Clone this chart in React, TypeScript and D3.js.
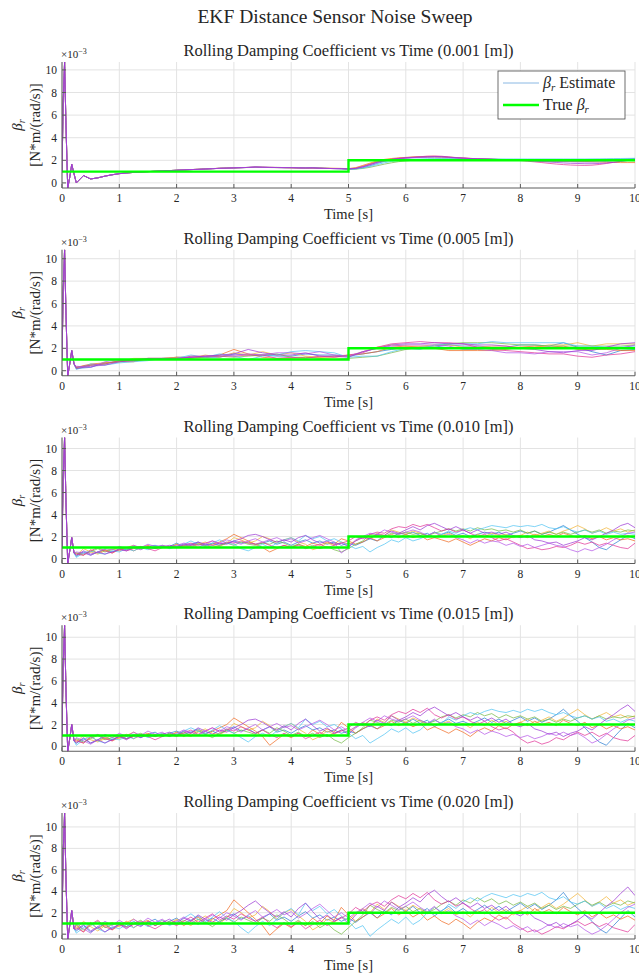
import React from 'react';
import * as d3 from 'd3';

// noise levels of the sweep, one subplot each
const noiseLevels = ['0.001', '0.005', '0.010', '0.015', '0.020'];

// estimate colours, in drawing order (last one sits on top of the start spike)
const traceColors = ['#2a7dd1', '#f06a22', '#f2b233', '#74b846', '#4fc3f2', '#e03296', '#b455e8', '#9b36d4'];

// shared start-up transient (x1e-3), same for every run of a subplot
const transientTimes = [0, 0.02, 0.045, 0.07, 0.1, 0.135, 0.17, 0.21];
const transient001 = [1.0, 7.0, 10.7, 5.0, -0.45, 0.5, 1.65, 0.8];
const transient005 = [1.0, 7.0, 10.8, 5.0, -0.45, 0.6, 1.8, 0.6];
const transient010 = [1.0, 7.2, 11.0, 5.0, -0.45, 0.7, 1.9, 0.5];
const transient015 = [1.0, 7.3, 11.1, 5.0, -0.45, 0.7, 2.0, 0.5];
const transient020 = [1.0, 7.5, 11.3, 5.0, -0.45, 0.8, 2.2, 0.5];

// estimates are sampled from t = 0.25 s on, with this step per subplot
const gridStart = 0.25;
const gridSteps = [0.125, 0.25, 0.125, 0.125, 0.125];

// beta_r estimates (x1e-3), 0.001 m noise
const est001 = [
  [0.0,0.65,0.35,0.45,0.6,0.72, 0.82,0.88,0.93,0.97,1.0,1.03,1.06,1.09, 1.12,1.15,1.18,1.2,1.23,1.26,1.29,1.31,
   1.33,1.35,1.37,1.4,1.38,1.37,1.36,1.35, 1.35,1.33,1.32,1.34,1.3,1.28,1.27,1.26, 1.22,1.25,1.35,1.52,1.72,1.9,2.03,2.12,
   2.18,2.22,2.25,2.27,2.28,2.27,2.24,2.2, 2.18,2.15,2.13,2.11,2.09,2.07,2.05,2.03, 2.01,1.99,1.97,1.95,1.93,1.91,1.9,1.9,
   1.9,1.92,1.95,1.98,2.0,2.03,2.06,2.1, 2.15],
  [0.0,0.65,0.35,0.45,0.6,0.72, 0.82,0.88,0.93,0.97,1.0,1.03,1.06,1.09, 1.12,1.15,1.18,1.21,1.24,1.27,1.3,1.32,
   1.34,1.36,1.37,1.38,1.38,1.37,1.36,1.35, 1.34,1.33,1.33,1.33,1.32,1.3,1.29,1.28, 1.26,1.35,1.55,1.75,1.95,2.08,2.16,2.22,
   2.26,2.3,2.33,2.35,2.35,2.33,2.28,2.24, 2.2,2.17,2.14,2.12,2.1,2.08,2.06,2.04, 2.02,2.0,1.98,1.96,1.95,1.94,1.93,1.92,
   1.92,1.9,1.88,1.85,1.83,1.82,1.8,1.8, 1.8],
  [0.0,0.65,0.35,0.45,0.6,0.72, 0.82,0.88,0.93,0.97,1.0,1.03,1.06,1.09, 1.12,1.15,1.18,1.2,1.23,1.26,1.29,1.31,
   1.33,1.35,1.37,1.39,1.38,1.37,1.37,1.36, 1.35,1.34,1.33,1.32,1.31,1.3,1.29,1.28, 1.27,1.32,1.5,1.7,1.9,2.03,2.12,2.18,
   2.22,2.26,2.28,2.3,2.3,2.28,2.25,2.21, 2.18,2.15,2.13,2.11,2.09,2.07,2.05,2.04, 2.02,2.0,1.99,1.97,1.96,1.95,1.94,1.94,
   1.95,1.98,2.0,2.02,2.03,2.02,2.0,1.98, 1.95],
  [0.0,0.65,0.35,0.45,0.6,0.72, 0.82,0.88,0.93,0.97,1.0,1.03,1.06,1.09, 1.12,1.15,1.18,1.2,1.23,1.26,1.29,1.31,
   1.33,1.35,1.36,1.37,1.37,1.36,1.35,1.35, 1.34,1.33,1.32,1.31,1.3,1.28,1.27,1.26, 1.2,1.22,1.28,1.38,1.52,1.66,1.78,1.88,
   1.95,2.0,2.05,2.08,2.1,2.12,2.12,2.12, 2.12,2.11,2.1,2.1,2.09,2.08,2.07,2.06, 2.05,2.04,2.03,2.03,2.02,2.02,2.03,2.04,
   2.05,2.06,2.07,2.08,2.09,2.1,2.1,2.11, 2.12],
  [0.0,0.65,0.35,0.45,0.6,0.72, 0.82,0.88,0.93,0.97,1.0,1.03,1.06,1.09, 1.12,1.15,1.18,1.2,1.23,1.26,1.29,1.31,
   1.33,1.35,1.37,1.38,1.38,1.37,1.37,1.36, 1.36,1.35,1.34,1.33,1.31,1.29,1.27,1.25, 1.2,1.23,1.32,1.45,1.62,1.78,1.9,1.98,
   2.04,2.08,2.12,2.14,2.15,2.15,2.15,2.14, 2.14,2.13,2.13,2.12,2.12,2.12,2.12,2.12, 2.12,2.12,2.12,2.12,2.12,2.12,2.12,2.12,
   2.12,2.12,2.13,2.13,2.14,2.15,2.16,2.17, 2.18],
  [0.0,0.65,0.35,0.45,0.6,0.72, 0.82,0.88,0.93,0.97,1.0,1.03,1.06,1.09, 1.12,1.15,1.18,1.2,1.23,1.26,1.29,1.31,
   1.33,1.35,1.37,1.4,1.39,1.38,1.37,1.36, 1.35,1.33,1.32,1.31,1.3,1.28,1.27,1.26, 1.24,1.3,1.46,1.66,1.86,2.0,2.1,2.18,
   2.24,2.28,2.32,2.36,2.38,2.36,2.3,2.25, 2.2,2.17,2.14,2.11,2.08,2.05,2.02,2.0, 1.98,1.92,1.86,1.8,1.73,1.67,1.62,1.58,
   1.56,1.55,1.57,1.63,1.72,1.82,1.92,2.0, 2.05],
  [0.0,0.65,0.35,0.45,0.6,0.72, 0.82,0.88,0.93,0.97,1.0,1.03,1.06,1.09, 1.12,1.15,1.18,1.2,1.23,1.26,1.29,1.31,
   1.33,1.35,1.37,1.4,1.38,1.37,1.36,1.35, 1.35,1.33,1.32,1.34,1.3,1.28,1.27,1.26, 1.24,1.28,1.42,1.6,1.8,1.95,2.07,2.15,
   2.2,2.24,2.27,2.29,2.31,2.3,2.26,2.22, 2.19,2.16,2.13,2.11,2.09,2.07,2.05,2.03, 2.01,1.99,1.97,1.95,1.93,1.91,1.89,1.88,
   1.85,1.84,1.84,1.86,1.9,1.95,2.0,2.05, 2.08],
  [0.0,0.65,0.35,0.45,0.6,0.72, 0.82,0.88,0.93,0.97,1.0,1.03,1.06,1.09, 1.12,1.15,1.18,1.2,1.23,1.26,1.29,1.31,
   1.33,1.35,1.37,1.42,1.39,1.37,1.36,1.35, 1.35,1.33,1.32,1.34,1.3,1.28,1.27,1.26, 1.24,1.28,1.42,1.62,1.82,1.97,2.08,2.16,
   2.22,2.26,2.29,2.31,2.33,2.32,2.28,2.23, 2.19,2.16,2.13,2.11,2.09,2.07,2.05,2.03, 2.0,1.97,1.93,1.89,1.85,1.81,1.77,1.74,
   1.72,1.7,1.7,1.72,1.76,1.82,1.9,1.98, 2.05],
];

// 0.005 m noise (0.25 s samples)
const est005 = [
  [0.2,0.3,0.7, 0.8,1.0,1.0,1.0, 1.2,1.2,1.2,1.2, 1.5,1.4,1.4,1.3, 1.3,1.5,1.4,1.4, 1.3,1.5,1.7,1.9, 2.1,2.1,2.1,2.3, 2.2,2.2,2.1,2.1, 2.3,2.3,2.2,2.5, 2.1,1.7,1.4,1.8, 1.9],
  [0.3,0.6,0.7, 0.8,0.8,1.1,1.1, 1.2,1.2,1.2,1.4, 1.9,1.5,1.2,1.1, 1.1,1.2,1.2,1.3, 1.4,1.5,1.7,2.1, 2.2,2.1,2.0,1.8, 1.8,1.8,1.8,1.9, 2.1,2.2,2.1,2.2, 1.9,1.9,1.9,1.8, 1.8],
  [0.2,0.5,0.7, 0.8,1.1,1.1,1.1, 1.2,1.1,1.4,1.2, 1.6,1.4,1.7,1.4, 1.6,1.3,1.2,1.2, 1.3,1.7,2.1,2.3, 2.2,2.2,2.3,2.3, 2.1,2.1,2.2,2.2, 2.1,2.1,2.3,2.3, 2.5,2.2,2.4,2.4, 2.4],
  [0.3,0.5,0.6, 0.9,0.9,1.0,1.0, 1.0,1.1,1.2,1.3, 1.2,1.3,1.4,1.5, 1.2,1.2,1.1,1.0, 1.1,1.2,1.3,1.6, 1.9,2.1,2.2,2.4, 2.5,2.5,2.5,2.4, 2.3,2.3,2.2,2.2, 2.2,2.2,2.2,2.2, 2.3],
  [0.1,0.6,0.5, 0.7,0.8,0.9,1.1, 1.1,1.4,1.2,1.5, 1.3,1.0,1.3,1.4, 1.7,1.8,1.7,1.6, 1.2,1.3,1.3,1.7, 2.0,1.9,2.3,2.4, 2.4,2.4,2.6,2.5, 2.5,2.5,2.5,2.5, 2.2,2.2,2.1,2.1, 2.2],
  [0.3,0.5,0.6, 0.9,0.9,1.0,1.0, 1.0,1.3,1.3,1.3, 1.3,1.4,1.4,1.1, 1.2,1.1,1.3,1.2, 1.4,1.6,2.1,2.4, 2.5,2.6,2.5,2.5, 2.4,2.1,1.9,1.8, 1.7,1.6,1.5,1.5, 1.3,1.2,1.4,1.5, 1.7],
  [0.4,0.3,0.8, 1.0,1.0,1.1,1.1, 1.1,1.2,1.3,1.3, 1.4,1.5,1.4,1.6, 1.6,1.5,1.7,1.4, 1.3,1.7,2.0,2.2, 2.3,2.3,2.3,2.2, 1.9,1.9,1.8,1.6, 1.6,1.5,1.7,1.7, 1.7,1.4,1.6,2.0, 2.3],
  [0.2,0.4,0.5, 0.8,0.9,1.1,1.1, 1.1,1.2,1.3,1.4, 1.5,1.9,1.6,1.4, 1.4,1.6,1.3,1.3, 1.2,1.7,2.0,2.3, 2.4,2.4,2.5,2.4, 2.4,2.3,2.3,2.2, 2.0,1.9,1.7,1.6, 1.8,1.8,2.1,2.4, 2.5],
];

// 0.010 m noise
const est010 = [
  [0.2,0.6,0.3,0.6,0.8,0.6, 0.9,0.8,1.1,0.9,1.1,1.2,1.0,1.1, 1.4,1.1,1.3,1.5,1.2,1.4,1.2,1.4, 1.6,1.4,1.5,1.3,1.4,1.6,1.3,1.5,
   1.2,1.5,1.7,1.4,1.6,1.3,1.5,1.2, 1.4,1.2,1.5,1.8,1.6,2.1,1.9,2.3, 2.2,2.4,2.1,2.3,1.9,2.2,2.4,2.1, 2.3,2.0,2.2,2.4,2.2,2.4,2.1,2.3,
   2.5,2.3,2.5,2.2,2.4,2.7,3.0,2.6, 2.2,1.9,1.5,1.0,0.8,1.3,1.7,2.1, 1.8],
  [0.5,0.3,0.8,0.5,0.8,0.5, 0.8,1.0,0.7,1.0,1.2,0.9,1.1,1.0, 1.3,1.0,1.2,1.4,1.1,1.3,1.5,1.8, 2.2,1.9,1.6,1.3,1.0,0.6,0.9,1.2,
   1.0,1.3,1.1,1.4,1.2,1.5,1.3,1.8, 1.6,1.3,1.5,1.9,1.6,1.9,2.2,1.9, 2.2,1.9,2.1,1.7,1.9,1.7,1.5,1.8, 1.5,1.2,1.5,1.8,1.6,1.9,1.7,2.0,
   2.1,1.9,2.2,2.0,2.2,2.0,2.3,2.1, 1.9,2.1,1.8,2.0,1.7,1.9,1.7,1.8, 1.6],
  [0.3,0.9,0.6,0.4,0.7,0.9, 0.7,1.0,1.2,0.9,1.1,0.9,1.2,1.0, 1.3,1.1,1.0,1.3,1.5,1.2,1.1,1.4, 1.9,1.7,1.4,1.6,2.0,1.8,1.4,1.7,
   1.9,1.5,1.3,0.8,1.0,1.4,1.2,1.5, 1.3,1.6,2.0,1.8,2.3,2.1,2.6,2.4, 2.2,2.5,2.3,2.0,2.4,2.1,2.3,2.0, 2.1,1.8,2.2,2.0,2.3,2.1,2.2,1.9,
   2.1,2.4,2.1,2.3,2.5,2.2,2.5,2.7, 3.0,2.7,2.3,2.5,2.8,2.5,2.7,2.4, 2.6],
  [0.5,0.4,0.6,0.9,0.6,0.8, 1.0,0.8,1.0,1.1,0.9,1.1,1.0,1.1, 1.0,1.2,1.1,1.3,1.2,1.0,1.2,1.4, 1.2,1.5,1.3,1.2,1.4,1.3,1.6,1.4,
   1.1,1.3,1.0,1.2,0.9,1.1,0.8,0.6, 0.9,1.3,1.6,2.2,2.1,2.0,2.3,2.2, 2.4,2.2,2.3,2.1,2.3,2.5,2.7,2.5, 2.7,2.5,2.8,2.6,2.7,2.5,2.6,2.4,
   2.6,2.3,2.5,2.2,2.4,2.2,2.4,2.2, 2.4,2.6,2.4,2.6,2.3,2.5,2.4,2.6, 2.5],
  [0.1,0.5,0.7,0.5,0.4,0.7, 0.6,0.9,0.7,1.0,0.8,1.0,1.2,0.9, 1.1,1.3,1.6,1.3,1.1,1.4,1.7,1.4, 1.3,0.9,0.7,1.0,1.3,1.0,1.4,1.7,
   1.9,1.6,2.1,1.8,2.0,1.6,1.8,1.5, 1.2,0.9,1.1,0.6,1.0,1.3,1.7,1.5, 1.9,1.6,1.8,2.1,2.4,2.2,2.5,2.3, 2.6,2.8,2.6,2.8,3.0,2.9,2.8,3.0,
   2.9,3.0,2.9,3.1,2.8,2.7,2.9,2.6, 2.4,2.6,2.3,2.5,2.2,2.4,2.2,2.3, 2.2],
  [0.4,0.3,0.7,1.0,0.7,0.5, 0.9,0.7,0.9,1.1,0.9,0.7,1.0,1.1, 1.0,1.2,1.4,1.2,1.4,1.6,1.3,1.5, 1.4,1.6,1.4,1.3,1.5,1.2,1.0,1.2,
   1.0,1.2,0.9,1.1,1.3,1.0,1.2,1.4, 1.6,2.0,1.8,2.2,2.4,2.3,2.7,2.9, 2.8,3.1,2.9,3.1,2.8,2.5,2.7,2.4, 2.6,2.3,2.0,2.2,1.9,1.6,1.8,1.5,
   1.2,0.9,1.0,0.8,0.9,1.1,1.0,1.2, 1.5,1.3,1.5,1.2,1.4,1.2,1.0,0.9, 1.4],
  [0.6,0.5,0.3,0.6,0.9,0.8, 1.1,0.9,1.2,1.0,1.3,1.1,1.2,1.0, 1.2,1.4,1.3,1.0,1.3,1.6,1.4,1.7, 1.5,1.3,1.6,1.8,1.5,1.7,1.9,1.6,
   1.8,1.4,1.6,1.9,2.1,1.8,1.5,0.5, 1.0,1.7,2.0,2.3,2.2,2.6,2.4,2.2, 2.4,2.6,2.4,2.1,2.4,2.0,2.2,1.9, 1.7,1.4,1.7,1.4,1.6,1.5,1.2,1.4,
   1.1,1.3,1.0,1.2,1.4,1.2,1.1,0.8, 0.6,0.9,0.7,1.0,1.3,1.7,2.0,2.3, 2.4],
  [0.3,0.7,0.4,0.6,0.4,0.6, 0.8,0.7,1.0,0.8,1.1,0.9,1.1,1.2, 1.1,1.3,1.2,1.5,1.3,1.2,1.4,1.3, 1.6,1.8,2.1,2.2,2.0,1.7,1.5,1.7,
   1.5,1.9,2.1,1.7,1.4,1.6,1.3,1.4, 1.1,1.6,1.9,1.8,2.2,2.1,2.5,2.3, 2.6,2.9,2.6,3.0,3.2,2.9,2.6,2.9, 2.6,2.3,2.6,2.3,2.4,2.2,2.4,2.1,
   1.9,2.1,1.7,1.6,1.4,1.5,1.2,1.4, 1.6,1.9,1.7,2.0,2.3,2.6,3.0,3.2, 2.8],
];

// 0.015 m noise
const est015 = [
  [0.3,0.7,0.3,0.6,0.9,0.6, 0.9,0.7,1.1,0.8,1.1,1.3,0.9,1.2, 1.4,1.1,1.3,1.6,1.2,1.4,1.1,1.5, 1.8,1.4,1.6,1.2,1.5,1.8,1.3,1.5,
   1.2,1.6,1.9,1.5,1.7,1.3,1.5,1.2, 1.4,1.2,1.6,1.9,1.6,2.1,1.9,2.4, 2.1,2.5,2.1,2.4,1.8,2.2,2.5,2.1, 2.3,2.0,2.3,2.6,2.2,2.5,2.1,2.4,
   2.7,2.3,2.6,2.2,2.5,2.9,3.4,2.8, 2.3,1.7,1.0,0.4,0.1,0.8,1.5,2.1, 1.7],
  [0.6,0.3,0.9,0.5,0.8,0.5, 0.8,1.1,0.7,1.0,1.2,0.9,1.1,0.9, 1.3,0.9,1.2,1.5,1.1,1.4,1.7,2.0, 2.6,2.2,1.8,1.4,0.9,0.1,0.6,1.1,
   0.8,1.2,0.9,1.5,1.1,1.6,1.3,2.2, 1.7,1.2,1.6,2.0,1.6,1.9,2.3,1.9, 2.2,1.8,2.1,1.5,1.8,1.5,1.2,1.6, 1.3,0.9,1.4,1.7,1.4,1.9,1.6,2.0,
   2.2,1.9,2.3,2.0,2.2,1.9,2.4,2.1, 1.9,2.2,1.7,2.0,1.6,1.9,1.6,1.8, 1.5],
  [0.4,1.0,0.6,0.4,0.7,1.0, 0.7,1.0,1.3,0.9,1.1,0.9,1.2,1.0, 1.3,1.1,0.9,1.3,1.6,1.2,1.1,1.4, 2.1,1.8,1.5,1.7,2.3,1.9,1.4,1.8,
   2.1,1.6,1.2,0.6,0.9,1.4,1.1,1.5, 1.3,1.8,2.2,1.9,2.5,2.2,2.8,2.5, 2.2,2.6,2.3,2.0,2.4,2.1,2.3,1.9, 2.1,1.7,2.2,1.9,2.4,2.0,2.3,1.9,
   2.2,2.5,2.1,2.4,2.7,2.3,2.6,3.0, 3.4,2.9,2.5,2.8,3.1,2.7,2.9,2.6, 2.8],
  [0.7,0.4,0.7,1.0,0.6,0.8, 1.0,0.7,1.0,1.2,0.9,1.1,0.9,1.2, 1.0,1.3,1.0,1.4,1.1,0.8,1.2,1.5, 1.2,1.5,1.3,1.1,1.5,1.2,1.7,1.4,
   1.0,1.3,0.9,1.2,0.8,1.1,0.6,0.3, 0.8,1.2,1.7,2.4,2.2,2.0,2.4,2.2, 2.5,2.1,2.4,2.1,2.3,2.7,2.9,2.6, 2.9,2.7,3.1,2.8,3.0,2.6,2.9,2.6,
   2.8,2.5,2.7,2.3,2.5,2.2,2.5,2.3, 2.6,2.8,2.5,2.8,2.5,2.7,2.6,2.8, 2.7],
  [0.1,0.6,0.9,0.5,0.3,0.7, 0.6,0.9,0.7,1.1,0.8,1.0,1.2,0.9, 1.1,1.4,1.7,1.4,1.1,1.5,1.9,1.5, 1.2,0.8,0.4,0.9,1.2,0.9,1.4,1.8,
   2.1,1.7,2.5,2.0,2.3,1.8,2.0,1.6, 1.2,0.7,1.0,0.3,0.7,1.1,1.6,1.3, 1.7,1.2,1.5,2.1,2.4,2.1,2.7,2.4, 2.8,3.1,2.9,3.2,3.4,3.2,3.1,3.3,
   3.1,3.4,3.2,3.4,3.1,2.9,3.1,2.8, 2.6,2.8,2.5,2.7,2.3,2.5,2.2,2.5, 2.3],
  [0.5,0.3,0.8,1.1,0.7,0.5, 1.0,0.7,0.9,1.1,0.9,0.6,0.9,1.1, 0.9,1.2,1.5,1.1,1.4,1.7,1.3,1.6, 1.4,1.8,1.5,1.2,1.5,1.1,0.8,1.2,
   0.9,1.2,0.7,1.0,1.3,0.9,1.2,1.4, 1.7,2.2,1.9,2.4,2.7,2.4,2.9,3.2, 3.0,3.4,3.1,3.5,2.9,2.6,2.9,2.5, 2.7,2.3,2.0,2.3,1.8,1.5,1.7,1.3,
   0.7,0.3,0.5,0.2,0.4,0.8,0.6,1.0, 1.3,1.0,1.3,0.9,1.2,0.8,0.6,0.5, 1.0],
  [0.8,0.5,0.2,0.6,1.1,0.8, 1.2,0.9,1.3,1.0,1.4,1.1,1.3,0.9, 1.2,1.5,1.3,1.0,1.4,1.7,1.4,1.8, 1.6,1.3,1.7,2.0,1.5,1.8,2.1,1.7,
   1.9,1.5,1.8,2.1,2.4,2.0,1.5,1.8, 1.4,1.8,2.2,2.6,2.3,2.8,2.5,2.3, 2.5,2.8,2.4,2.1,2.5,2.0,2.2,1.8, 1.6,1.2,1.5,1.1,1.4,1.2,0.9,1.1,
   0.8,1.0,0.7,0.9,1.2,1.0,1.3,1.0, 1.2,0.8,0.3,0.6,1.1,1.6,2.0,2.4, 2.6],
  [0.3,0.8,0.3,0.6,0.3,0.6, 0.9,0.6,1.0,0.8,1.1,0.9,1.1,1.3, 1.0,1.4,1.2,1.7,1.4,1.1,1.5,1.3, 1.7,2.0,2.4,2.5,2.2,1.8,1.5,1.9,
   1.5,2.1,2.5,1.9,1.4,1.7,1.2,1.5, 1.1,1.7,2.1,1.8,2.4,2.1,2.8,2.4, 2.7,3.1,2.8,3.3,3.6,3.2,2.8,3.1, 2.7,2.4,2.7,2.3,2.6,2.2,2.5,2.0,
   1.8,2.1,1.6,1.4,1.1,1.3,0.9,1.2, 1.4,1.8,1.5,2.0,2.5,2.9,3.4,3.8, 3.2],
];

// 0.020 m noise
const est020 = [
  [0.3,0.8,0.2,0.6,1.0,0.5, 0.9,0.7,1.2,0.8,1.1,1.4,0.9,1.2, 1.5,1.0,1.3,1.7,1.2,1.5,1.1,1.6, 1.9,1.4,1.7,1.2,1.5,1.9,1.3,1.6,
   1.2,1.7,2.1,1.5,1.8,1.3,1.6,1.2, 1.5,1.1,1.6,2.0,1.5,2.2,1.8,2.5, 2.1,2.6,2.0,2.4,1.7,2.2,2.6,2.0, 2.4,1.9,2.3,2.7,2.2,2.6,2.1,2.5,
   2.9,2.4,2.8,2.3,2.7,3.2,3.9,3.0, 2.4,1.8,1.2,0.5,0.1,0.8,1.5,2.2, 1.6],
  [0.8,0.2,1.1,0.5,0.9,0.4, 0.8,1.2,0.6,1.0,1.3,0.8,1.1,0.9, 1.3,0.8,1.2,1.6,1.0,1.4,1.8,2.2, 3.2,2.6,2.0,1.4,0.8,-0.1,0.5,1.0,
   0.6,1.2,0.8,1.5,1.0,1.7,1.3,2.5, 1.8,1.2,1.6,2.1,1.5,1.9,2.4,1.8, 2.2,1.6,2.0,1.3,1.7,1.2,0.9,1.4, 1.0,0.5,1.1,1.5,1.2,1.8,1.4,2.0,
   2.2,1.8,2.4,2.0,2.3,1.9,2.5,2.1, 1.8,2.2,1.6,2.0,1.5,1.8,1.4,1.7, 1.3],
  [0.5,1.2,0.7,0.3,0.8,1.1, 0.7,1.1,1.4,0.9,1.2,0.8,1.3,1.0, 1.4,1.1,0.8,1.3,1.7,1.2,1.0,1.5, 2.4,2.0,1.5,1.8,2.6,2.1,1.4,2.0,
   2.3,1.7,1.2,0.4,0.8,1.4,1.1,1.6, 1.3,1.9,2.4,2.0,2.8,2.3,3.0,2.6, 2.2,2.7,2.3,1.9,2.5,2.0,2.4,1.8, 2.1,1.6,2.2,1.9,2.5,2.0,2.3,1.8,
   2.2,2.6,2.1,2.5,2.9,2.4,2.8,3.3, 3.8,3.2,2.6,3.0,3.5,2.9,3.2,2.7, 3.0],
  [0.9,0.4,0.8,1.2,0.6,0.9, 1.1,0.7,1.0,1.3,0.8,1.1,0.9,1.2, 0.9,1.3,1.0,1.4,1.1,0.7,1.2,1.5, 1.1,1.6,1.3,1.0,1.5,1.2,1.8,1.4,
   0.9,1.3,0.8,1.2,0.6,1.0,0.4,0.0, 0.6,1.2,1.8,2.7,2.3,2.0,2.5,2.2, 2.6,2.1,2.4,2.0,2.3,2.8,3.1,2.7, 3.2,2.9,3.4,3.0,3.3,2.8,3.1,2.7,
   3.0,2.6,2.9,2.4,2.7,2.3,2.6,2.4, 2.8,3.1,2.7,3.0,2.6,2.9,2.7,3.1, 2.9],
  [0.1,0.6,1.0,0.5,0.2,0.7, 0.5,0.9,0.6,1.1,0.7,1.0,1.3,0.8, 1.1,1.5,1.9,1.4,1.0,1.6,2.1,1.5, 1.2,0.6,0.1,0.7,1.2,0.8,1.4,2.0,
   2.4,1.8,2.9,2.2,2.6,1.9,2.3,1.7, 1.2,0.5,0.8,-0.2,0.4,0.9,1.4,1.0, 1.6,0.9,1.3,2.0,2.5,2.1,2.8,2.4, 3.0,3.4,3.1,3.5,3.8,3.6,3.4,3.7,
   3.5,3.8,3.6,3.9,3.4,3.2,3.5,3.0, 2.8,3.1,2.6,2.9,2.4,2.7,2.3,2.6, 2.4],
  [0.6,0.2,0.9,1.3,0.7,0.4, 1.0,0.6,0.9,1.2,0.8,0.5,0.9,1.1, 0.8,1.2,1.6,1.1,1.5,1.9,1.3,1.7, 1.4,1.9,1.5,1.2,1.6,1.0,0.6,1.1,
   0.7,1.1,0.5,0.9,1.3,0.8,1.2,1.5, 1.9,2.5,2.1,2.7,3.0,2.6,3.2,3.6, 3.3,3.8,3.4,3.9,3.2,2.8,3.1,2.6, 2.9,2.4,2.0,2.3,1.7,1.3,1.6,1.0,
   0.6,0.2,0.4,0.0,0.3,0.7,0.5,0.9, 1.2,0.8,1.1,0.7,1.0,0.6,0.4,0.2, 0.9],
  [1.0,0.5,0.1,0.7,1.2,0.8, 1.3,0.9,1.4,1.0,1.5,1.1,1.4,0.9, 1.2,1.6,1.3,0.9,1.4,1.8,1.5,2.0, 1.7,1.3,1.8,2.2,1.6,1.9,2.3,1.8,
   2.1,1.5,1.9,2.4,2.8,2.2,1.6,2.0, 1.5,2.0,2.4,2.9,2.5,3.1,2.7,2.3, 2.6,3.0,2.5,2.1,2.6,1.9,2.2,1.7, 1.4,0.9,1.3,0.8,1.2,0.9,0.5,0.8,
   0.4,0.7,0.2,0.5,0.9,0.6,1.0,0.7, 0.9,0.4,0.0,0.3,0.8,1.4,2.0,2.5, 2.8],
  [0.4,0.9,0.3,0.7,0.2,0.6, 0.9,0.5,1.0,0.7,1.2,0.8,1.1,1.4, 1.0,1.5,1.2,1.8,1.4,1.1,1.6,1.3, 1.8,2.2,2.7,3.1,2.5,2.0,1.6,2.1,
   1.6,2.4,2.9,2.1,1.4,1.8,1.2,1.6, 1.0,1.8,2.3,1.9,2.6,2.2,3.0,2.5, 2.9,3.4,3.0,3.7,4.1,3.5,3.0,3.4, 2.9,2.5,2.9,2.4,2.7,2.2,2.6,2.0,
   1.7,2.1,1.5,1.2,0.8,1.1,0.6,0.9, 1.3,1.8,1.4,2.0,2.6,3.1,3.8,4.4, 3.6],
];

const transients = [transient001, transient005, transient010, transient015, transient020];
const estimates = [est001, est005, est010, est015, est020];

// true beta_r (x1e-3): step from 1 to 2 at t = 5 s
const truthTimes = [0, 5, 5, 10];
const truthValues = [1, 1, 2, 2];

const xTicks = [0, 1, 2, 3, 4, 5, 6, 7, 8, 9, 10];
const yTicks = [0, 2, 4, 6, 8, 10];

const W = 639;
const H = 979;
const plotLeft = 62;
const plotRight = 635;
const panelTop0 = 62;
const panelPitch = 187.75;
const panelHeight = 126;
const serif = '"Liberation Serif", "Times New Roman", serif';
const gridColor = '#e3e3e3';
const axisColor = '#5c5c5c';
const textColor = '#262626';

function Panel({ idx }: { idx: number }) {
  const top = panelTop0 + idx * panelPitch;
  const bottom = top + panelHeight;
  const step = gridSteps[idx];
  const trans = transients[idx];

  const series = estimates[idx].map((vals) => {
    const times = transientTimes.concat(vals.map((_, i) => gridStart + i * step));
    const ys = trans.concat(vals);
    return times.map((t, i) => [t, ys[i]] as [number, number]);
  });

  const allY = series.flat().map((d) => d[1]).concat(truthValues);
  const yDomain = d3.extent(allY) as [number, number];

  const x = d3.scaleLinear().domain([0, 10]).range([plotLeft, plotRight]);
  const y = d3.scaleLinear().domain(yDomain).range([bottom, top]);
  const line = d3
    .line<[number, number]>()
    .x((d) => x(d[0]))
    .y((d) => y(d[1]));
  const truth = truthTimes.map((t, i) => [t, truthValues[i]] as [number, number]);
  const clipId = `clip-${idx}`;
  const midY = (top + bottom) / 2;
  const midX = (plotLeft + plotRight) / 2;

  return (
    <g>
      <defs>
        <clipPath id={clipId}>
          <rect x={plotLeft} y={top} width={plotRight - plotLeft} height={panelHeight} />
        </clipPath>
      </defs>
      {/* grid */}
      {xTicks.map((t) => (
        <line key={'gx' + t} x1={x(t)} x2={x(t)} y1={top} y2={bottom} stroke={gridColor} strokeWidth={1} />
      ))}
      {yTicks.map((t) => (
        <line key={'gy' + t} x1={plotLeft} x2={plotRight} y1={y(t)} y2={y(t)} stroke={gridColor} strokeWidth={1} />
      ))}
      {/* estimates + truth */}
      <g clipPath={`url(#${clipId})`}>
        {series.map((s, i) => (
          <path key={i} d={line(s) || ''} fill="none" stroke={traceColors[i]} strokeWidth={0.8} strokeOpacity={0.9} />
        ))}
        <path d={line(truth) || ''} fill="none" stroke="#00ff00" strokeWidth={2.4} />
      </g>
      {/* axes */}
      <line x1={plotLeft} x2={plotRight} y1={bottom} y2={bottom} stroke={axisColor} strokeWidth={1} />
      <line x1={plotLeft} x2={plotLeft} y1={top} y2={bottom} stroke={axisColor} strokeWidth={1} />
      {xTicks.map((t) => (
        <g key={'tx' + t}>
          <line x1={x(t)} x2={x(t)} y1={bottom} y2={bottom - 4} stroke={axisColor} />
          <text x={x(t)} y={bottom + 14} textAnchor="middle" fontSize={11.5} fill={textColor} fontFamily={serif}>
            {t}
          </text>
        </g>
      ))}
      {yTicks.map((t) => (
        <g key={'ty' + t}>
          <line x1={plotLeft} x2={plotLeft + 4} y1={y(t)} y2={y(t)} stroke={axisColor} />
          <text x={plotLeft - 5} y={y(t) + 4} textAnchor="end" fontSize={11.5} fill={textColor} fontFamily={serif}>
            {t}
          </text>
        </g>
      ))}
      {/* exponent */}
      <text x={plotLeft - 1} y={top - 4} fontSize={11} fill={textColor} fontFamily={serif}>
        ×10
        <tspan fontSize={8} dy={-4}>−3</tspan>
      </text>
      {/* titles and labels */}
      <text x={midX} y={top - 6} textAnchor="middle" fontSize={16.5} fill={textColor} fontFamily={serif}>
        {`Rolling Damping Coefficient vs Time (${noiseLevels[idx]} [m])`}
      </text>
      <text x={midX} y={bottom + 31} textAnchor="middle" fontSize={14.5} fill={textColor} fontFamily={serif}>
        Time [s]
      </text>
      <text transform={`translate(22,${midY}) rotate(-90)`} textAnchor="middle" fontSize={15} fill={textColor} fontFamily={serif}>
        <tspan fontStyle="italic">β</tspan>
        <tspan fontStyle="italic" fontSize={10} dy={3}>r</tspan>
      </text>
      <text transform={`translate(40,${midY}) rotate(-90)`} textAnchor="middle" fontSize={15} fill={textColor} fontFamily={serif}>
        [N*m/(rad/s)]
      </text>
    </g>
  );
}

function Legend() {
  const lx = 498;
  const ly = 71;
  return (
    <g fontFamily={serif}>
      <rect x={lx} y={ly} width={127} height={48} fill="#fff" stroke="#4a4a4a" strokeWidth={0.8} />
      <line x1={lx + 5} x2={lx + 41} y1={ly + 12} y2={ly + 12} stroke="#8ab8e3" strokeWidth={1} />
      <text x={lx + 45} y={ly + 17} fontSize={16} fill={textColor}>
        <tspan fontStyle="italic">β</tspan>
        <tspan fontStyle="italic" fontSize={11} dy={3}>r</tspan>
        <tspan dy={-3}> Estimate</tspan>
      </text>
      <line x1={lx + 5} x2={lx + 41} y1={ly + 34} y2={ly + 34} stroke="#00ff00" strokeWidth={2.4} />
      <text x={lx + 45} y={ly + 39} fontSize={16} fill={textColor}>
        True <tspan fontStyle="italic">β</tspan>
        <tspan fontStyle="italic" fontSize={11} dy={3}>r</tspan>
      </text>
    </g>
  );
}

export default function App() {
  return (
    <svg
      width={W}
      height={H}
      viewBox={`0 0 ${W} ${H}`}
      style={{ position: 'absolute', left: 0, top: 0, background: '#fff' }}
    >
      <rect width={W} height={H} fill="#fff" />
      <text x={335} y={23} textAnchor="middle" fontSize={19.5} fill={textColor} fontFamily={serif}>
        EKF Distance Sensor Noise Sweep
      </text>
      {noiseLevels.map((_, i) => (
        <Panel key={i} idx={i} />
      ))}
      <Legend />
    </svg>
  );
}
